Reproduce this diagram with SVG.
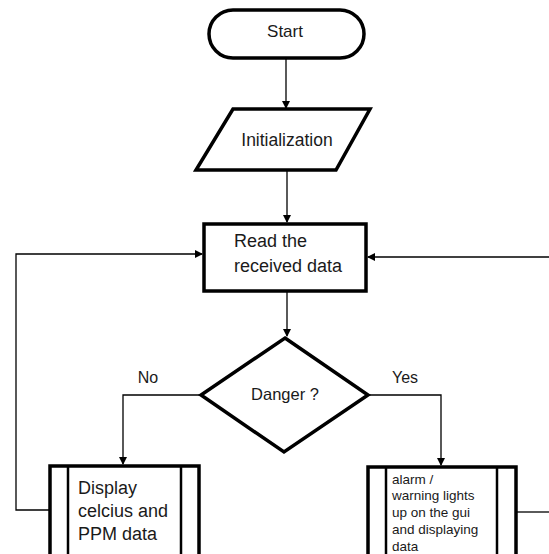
<svg xmlns="http://www.w3.org/2000/svg" width="549" height="554" viewBox="0 0 549 554">
<style>
.shape{fill:#fff;stroke:#000;stroke-width:3.5}
.div{stroke:#000;stroke-width:2.5}
.conn{fill:none;stroke:#000;stroke-width:1.3}
text{font-family:"Liberation Sans",Arial,sans-serif;fill:#1a1a1a}
.c{text-anchor:middle}
</style>
<defs>
<marker id="arr" markerWidth="8" markerHeight="8" refX="7" refY="4" orient="auto" markerUnits="userSpaceOnUse">
<path d="M0,0 L8,4 L0,8 Z" fill="#000"/>
</marker>
</defs>
<rect width="549" height="554" fill="#fff"/>
<g id="connectors">
<path class="conn" d="M286,59 V108" marker-end="url(#arr)"/>
<path class="conn" d="M287,171 V222" marker-end="url(#arr)"/>
<path class="conn" d="M287,292 V336" marker-end="url(#arr)"/>
<path class="conn" d="M201,395 H123 V464" marker-end="url(#arr)"/>
<path class="conn" d="M368,395 H441 V465" marker-end="url(#arr)"/>
<path class="conn" d="M50,510 H16 V254 H202" marker-end="url(#arr)"/>
<path class="conn" d="M549,257 H368" marker-end="url(#arr)"/>
<path class="conn" d="M517,512 H549"/>
<text x="148" y="383" class="c" font-size="16">No</text>
<text x="405" y="383" class="c" font-size="16">Yes</text>
</g>
<g id="start">
<rect class="shape" x="209" y="10" width="155" height="48" rx="24"/>
<text x="285" y="37" class="c" font-size="17">Start</text>
</g>
<g id="init">
<polygon class="shape" points="233,109 370,109 336,170 196,170"/>
<text x="287" y="146" class="c" font-size="17.5">Initialization</text>
</g>
<g id="read">
<rect class="shape" x="204" y="224" width="162" height="67"/>
<text x="234" y="247" font-size="18">Read the</text>
<text x="234" y="272" font-size="18">received data</text>
</g>
<g id="danger">
<polygon class="shape" points="285,338 368,395 284,452 201,395"/>
<text x="285" y="400" class="c" font-size="16.5">Danger ?</text>
</g>
<g id="display">
<rect class="shape" x="50" y="466" width="149" height="100"/>
<line class="div" x1="68" y1="466" x2="68" y2="560"/>
<line class="div" x1="181" y1="466" x2="181" y2="560"/>
<text x="78" y="494" font-size="18">Display</text>
<text x="78" y="517" font-size="18">celcius and</text>
<text x="78" y="540" font-size="18">PPM data</text>
</g>
<g id="alarm">
<rect class="shape" x="368" y="467" width="148" height="100"/>
<line class="div" x1="386" y1="467" x2="386" y2="560"/>
<line class="div" x1="497" y1="467" x2="497" y2="560"/>
<text x="392" y="484" font-size="13.5">alarm /</text>
<text x="392" y="500" font-size="13.5">warning lights</text>
<text x="392" y="517" font-size="13.5">up on the gui</text>
<text x="392" y="534" font-size="13.5">and displaying</text>
<text x="392" y="551" font-size="13.5">data</text>
</g>
</svg>
